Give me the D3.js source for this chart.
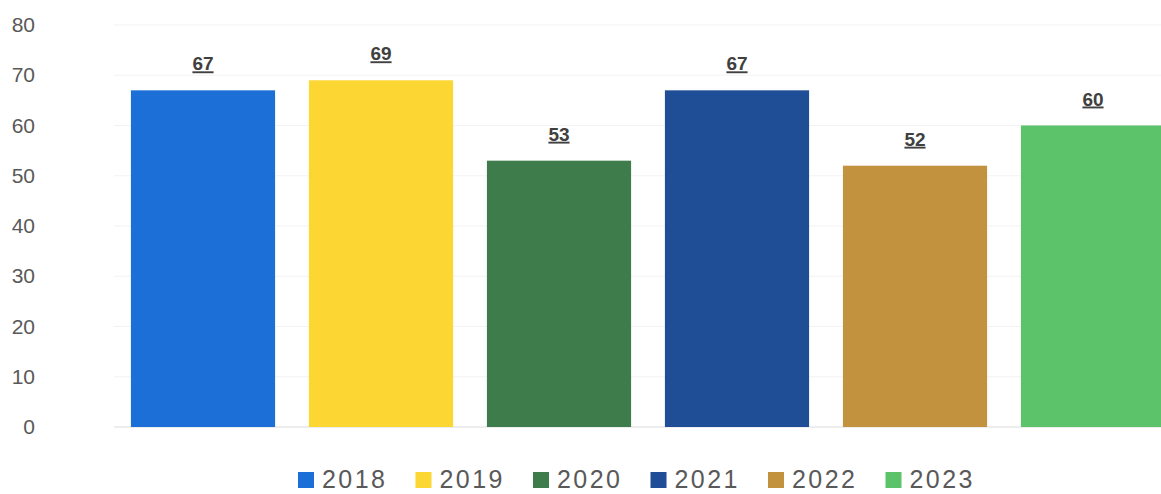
<!DOCTYPE html>
<html>
<head>
<meta charset="utf-8">
<script src="https://cdn.jsdelivr.net/npm/d3@7"></script>
<style>
  body { margin: 0; background: #fff; }
  svg { display: block; }
</style>
</head>
<body>
<svg id="chart" width="1161" height="494"></svg>
<script>
    "use strict";

    // Chart data
    var years = ["2018", "2019", "2020", "2021", "2022", "2023"];
    var values = [67, 69, 53, 67, 52, 60];
    var barColors = ["#1c6fd6", "#fcd633", "#3f7c4b", "#1f4e97", "#c2923f", "#5cc36b"];
    var yTicks = [0, 10, 20, 30, 40, 50, 60, 70, 80];

    const WIDTH = 1161;

    var svg = d3.select("#chart");

    var x = d3.scaleBand()
        .domain(years)
        .range([114, 1182])
        .paddingInner(0.19)
        .paddingOuter(0.095);

    var y = d3.scaleLinear()
        .domain([0, 80])
        .range([427, 25]);

    // Faint gridlines
    svg.append("g")
        .selectAll("line")
        .data(yTicks)
        .enter().append("line")
            .attr("x1", 114)
            .attr("x2", WIDTH)
            .attr("y1", function(d) { return y(d); })
            .attr("y2", function(d) { return y(d); })
            .attr("stroke", function(d) { return d === 0 ? "#dcdcdc" : "#f3f3f3"; })
            .attr("stroke-width", 1);

    // Y axis labels
    var yAxis = d3.axisLeft(y).tickValues(yTicks).tickSize(0).tickPadding(0);
    var yAxisGroup = svg.append("g")
        .attr("transform", "translate(35,0)")
        .call(yAxis);
    yAxisGroup.select(".domain").remove();
    yAxisGroup.selectAll("text")
        .attr("font-family", "'Liberation Sans', Arial, sans-serif")
        .attr("font-size", 21)
        .attr("fill", "#595959");

    // Bars
    svg.append("g")
        .selectAll("rect")
        .data(values)
        .enter().append("rect")
            .attr("x", function(d, i) { return x(years[i]); })
            .attr("y", function(d) { return y(d); })
            .attr("width", x.bandwidth())
            .attr("height", function(d) { return y(0) - y(d); })
            .attr("fill", function(d, i) { return barColors[i]; });

    // Value labels (bold, underlined)
    svg.append("g")
        .selectAll("text")
        .data(values)
        .enter().append("text")
            .attr("x", function(d, i) { return x(years[i]) + x.bandwidth() / 2; })
            .attr("y", function(d) { return y(d) - 20; })
            .attr("text-anchor", "middle")
            .attr("font-family", "'Liberation Sans', Arial, sans-serif")
            .attr("font-size", 19)
            .attr("font-weight", "bold")
            .attr("text-decoration", "underline")
            .attr("fill", "#404040")
            .text(function(d) { return d; });

    // Legend
    const LEGEND_X = 298;
    const LEGEND_STEP = 117.5;
    var legend = svg.append("g")
        .selectAll("g")
        .data(years)
        .enter().append("g")
            .attr("transform", function(d, i) { return "translate(" + (LEGEND_X + i * LEGEND_STEP) + ",472)"; });

    legend.append("rect")
        .attr("width", 16)
        .attr("height", 16)
        .attr("fill", function(d, i) { return barColors[i]; });

    legend.append("text")
        .attr("x", 24)
        .attr("y", 16)
        .attr("font-family", "'Liberation Sans', Arial, sans-serif")
        .attr("font-size", 25)
        .attr("textLength", 63)
        .attr("fill", "#595959")
        .text(function(d) { return d; });
</script>
</body>
</html>
